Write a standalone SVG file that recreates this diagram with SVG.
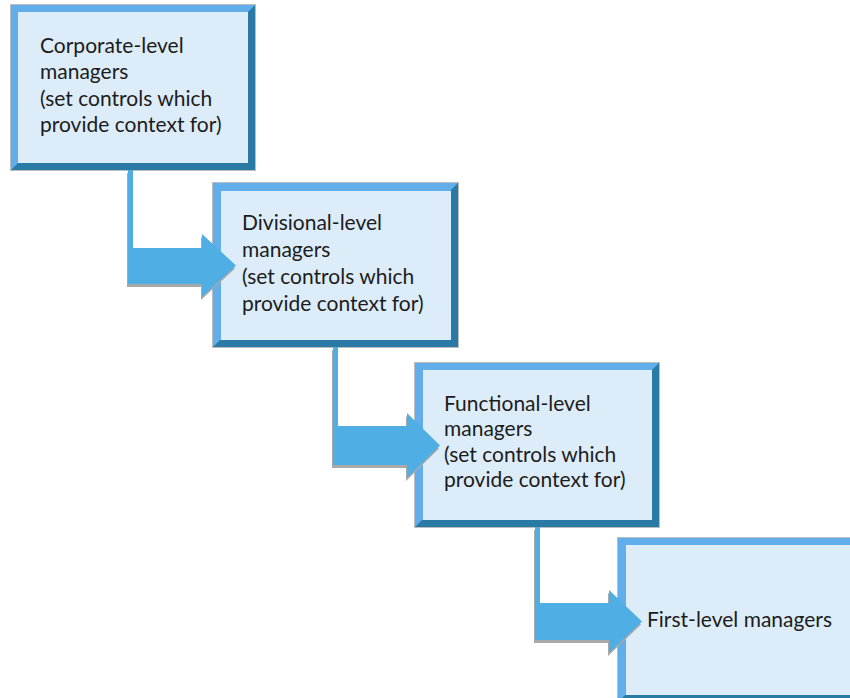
<svg xmlns="http://www.w3.org/2000/svg" width="850" height="698" viewBox="0 0 850 698">
  <style>
    .edge { fill: #bdbdbd; }
    .light { fill: #62aeea; }
    .dark { fill: #2a7aa6; }
    .face { fill: #dcedf9; }
    .label { font-family: Lato, "Open Sans", "Liberation Sans", sans-serif; font-size: 21px; fill: #1c1c1c; }
    .arrow { fill: #4faee3; }
    .shadow { fill: #a9a9a9; }
  </style>
  <rect width="850" height="698" fill="#ffffff"/>

  <!-- Bevelled boxes: light top/left band, dark bottom/right band -->
  <g id="corporate">
    <rect class="edge" x="10" y="4" width="246" height="167"/>
    <rect class="light" x="11" y="5" width="244" height="165"/>
    <polygon class="dark" points="255,5 255,170 11,170 18,163 248,163 248,12"/>
    <rect class="face" x="18" y="12" width="230" height="151"/>
    <text class="label" x="40" y="53">Corporate-level</text>
    <text class="label" x="40" y="79">managers</text>
    <text class="label" x="40" y="105.5">(set controls which</text>
    <text class="label" x="40" y="131.5">provide context for)</text>
  </g>

  <g id="divisional">
    <rect class="edge" x="212" y="182" width="247" height="166"/>
    <rect class="light" x="213" y="183" width="245" height="164"/>
    <polygon class="dark" points="458,183 458,347 213,347 220,340 451,340 451,190"/>
    <rect class="face" x="221" y="191" width="230" height="149"/>
    <text class="label" x="242" y="230">Divisional-level</text>
    <text class="label" x="242" y="257">managers</text>
    <text class="label" x="242" y="284">(set controls which</text>
    <text class="label" x="242" y="311">provide context for)</text>
  </g>

  <g id="functional">
    <rect class="edge" x="414" y="362" width="246" height="166"/>
    <rect class="light" x="415" y="363" width="244" height="164"/>
    <polygon class="dark" points="659,363 659,527 415,527 422,520 652,520 652,370"/>
    <rect class="face" x="423" y="370" width="229" height="150"/>
    <text class="label" x="444" y="410.5">Functional-level</text>
    <text class="label" x="444" y="436">managers</text>
    <text class="label" x="444" y="461.5">(set controls which</text>
    <text class="label" x="444" y="487">provide context for)</text>
  </g>

  <g id="first-level">
    <rect class="edge" x="617" y="537" width="242" height="166"/>
    <rect class="light" x="618" y="538" width="240" height="164"/>
    <polygon class="dark" points="858,538 858,702 618,702 625,695 851,695 851,545"/>
    <rect class="face" x="626" y="545" width="225" height="150"/>
    <text class="label" x="647" y="627">First-level managers</text>
  </g>

  <!-- Elbow connectors with drop shadows -->
  <g id="connectors">
    <path class="shadow" transform="translate(-1,3)" d="M128,170 H133 V248 H202 V234 L236,265.5 L202,297 V284 H128 Z"/>
    <path class="arrow" d="M128,170 H133 V248 H202 V234 L236,265.5 L202,297 V284 H128 Z"/>

    <path class="shadow" transform="translate(-1,3)" d="M333,347 H338 V426 H407 V413 L440,445.5 L407,478 V465 H333 Z"/>
    <path class="arrow" d="M333,347 H338 V426 H407 V413 L440,445.5 L407,478 V465 H333 Z"/>

    <path class="shadow" transform="translate(-1,3)" d="M535,527 H540 V603 H609 V590 L642,621.5 L609,653 V640 H535 Z"/>
    <path class="arrow" d="M535,527 H540 V603 H609 V590 L642,621.5 L609,653 V640 H535 Z"/>
  </g>
</svg>
